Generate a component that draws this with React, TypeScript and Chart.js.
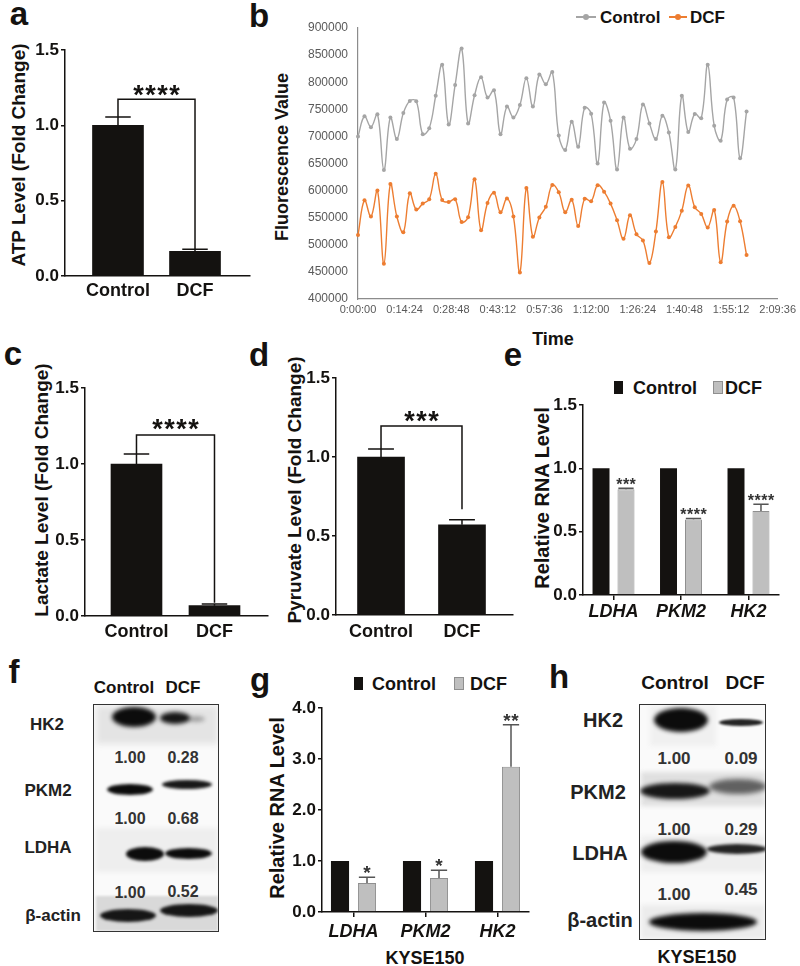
import React, { useEffect, useRef } from 'react';
import { Chart, registerables } from 'chart.js';
Chart.register(...registerables);

const W = 800;
const H = 966;
const FONT = '"Liberation Sans", Arial, Helvetica, sans-serif';
const INK = '#141210';
const DCF_GRAY = '#bfbfbf';

// ---------- Panel a / c / d data ----------
const groups = ['Control', 'DCF'];
const atpMeans = [1.0, 0.164];
const atpErr = [0.055, 0.013];
const lactateMeans = [1.0, 0.068];
const lactateErr = [0.066, 0.011];
const pyruvateMeans = [1.0, 0.571];
const pyruvateErr = [0.05, 0.032];
const atpSig = { label: '****', top: 1.173, leftEnd: 1.055, rightEnd: 0.177, labelY: 1.245 };
const lactateSig = { label: '****', top: 1.19, leftEnd: 1.066, rightEnd: 0.087, labelY: 1.27 };
const pyruvateSig = { label: '***', top: 1.196, leftEnd: 1.05, rightEnd: 0.669, labelY: 1.27 };

// ---------- Panel b data ----------
const timeMinutes = [0, 2, 4, 6, 8, 10, 12, 14, 16, 18, 20, 22, 24, 26, 28, 30, 32, 34, 36, 38, 40, 42, 44, 46, 48, 50, 52, 54, 56, 58, 60, 62, 64, 66, 68, 70, 72, 74, 76, 78, 80, 82, 84, 86, 88, 90, 92, 94, 96, 98, 100, 102, 104, 106, 108, 110, 112, 114, 116, 118, 120];
const controlFluor = [700000, 737000, 717000, 741000, 638000, 735000, 695000, 743000, 765500, 765000, 704000, 715000, 775000, 832000, 722000, 795000, 862000, 724000, 776000, 809000, 772000, 785000, 704000, 755000, 735000, 758000, 807500, 755000, 814000, 796000, 819000, 701500, 675000, 727000, 681000, 753000, 742000, 650000, 762500, 729000, 639000, 735000, 677000, 695000, 759000, 724000, 695000, 738000, 707000, 639000, 775000, 708000, 741500, 733500, 832000, 719500, 692000, 768000, 772000, 659500, 746000];
const dcfFluor = [518000, 582000, 552000, 600000, 465000, 612000, 552000, 523000, 595000, 565000, 576000, 584000, 631000, 582500, 579000, 584000, 542000, 551000, 621000, 527000, 577000, 596000, 560000, 585500, 552000, 449000, 605000, 515000, 550500, 570000, 610500, 597000, 560000, 583000, 534500, 585000, 580500, 610000, 598000, 576000, 545500, 511000, 554500, 519500, 508000, 466500, 524500, 616000, 514000, 533000, 563000, 609500, 569500, 557000, 532000, 564000, 468000, 543000, 572000, 543500, 481000];
const tickMinutes = [0, 14.4, 28.8, 43.2, 57.6, 72, 86.4, 100.8, 115.2, 129.6];
const timeTickLabels = ['0:00:00', '0:14:24', '0:28:48', '0:43:12', '0:57:36', '1:12:00', '1:26:24', '1:40:48', '1:55:12', '2:09:36'];

// ---------- Panel e / g data ----------
const genes = ['LDHA', 'PKM2', 'HK2'];
const eControl = [1.0, 1.0, 1.0];
const eDcf = [0.834, 0.597, 0.663];
const eDcfErr = [0.008, 0.006, 0.053];
const eStars = ['***', '****', '****'];
const gControl = [1.0, 1.0, 1.0];
const gDcf = [0.569, 0.667, 2.85];
const gDcfErr = [0.11, 0.15, 0.82];
const gStars = ['*', '*', '**'];

// ---------- Blot annotations ----------
const proteins = ['HK2', 'PKM2', 'LDHA', 'β-actin'];
const fRatios = [['1.00', '0.28'], ['1.00', '0.68'], ['1.00', '0.52']];
const hRatios = [['1.00', '0.09'], ['1.00', '0.29'], ['1.00', '0.45']];

function pad(x0: number, y0: number, x1: number, y1: number, yW: number, xH: number) {
  return { left: x0 - yW, top: y0, right: W - x1, bottom: H - y1 - xH };
}

function drawStars(ctx: any, text: string, cx: number, cy: number, size: number, spacing: number, color: string) {
  ctx.save();
  ctx.font = `bold ${size}px ${FONT}`;
  ctx.fillStyle = color;
  ctx.textAlign = 'center';
  ctx.textBaseline = 'alphabetic';
  ctx.letterSpacing = `${spacing}px`;
  ctx.fillText(text, cx + spacing / 2, cy + size * 0.575);
  ctx.restore();
}

function annot(bracket?: any, bracketStar?: { size: number; spacing: number }) {
  return {
    id: 'annot',
    afterDatasetsDraw(chart: any) {
      const ctx = chart.ctx;
      const ys = chart.scales.y;
      ctx.save();
      chart.data.datasets.forEach((ds: any, di: number) => {
        const meta = chart.getDatasetMeta(di);
        meta.data.forEach((bar: any, i: number) => {
          const v = ds.data[i].y;
          let top = ys.getPixelForValue(v);
          if (ds.errors && ds.errors[i] != null) {
            const e = ds.errors[i];
            const yt = ys.getPixelForValue(v + e);
            const yb = ys.getPixelForValue(v);
            const half = (bar.width * ds.capRatio) / 2;
            ctx.strokeStyle = ds.errorColor;
            ctx.lineWidth = 1.5;
            ctx.beginPath();
            ctx.moveTo(bar.x, yb);
            ctx.lineTo(bar.x, yt);
            ctx.moveTo(bar.x - half, yt);
            ctx.lineTo(bar.x + half, yt);
            ctx.stroke();
            top = yt;
          }
          if (ds.stars) {
            drawStars(ctx, ds.stars[i], bar.x, top - ds.starGap, ds.starSize, ds.starSpacing, '#333');
          }
        });
      });
      if (bracket) {
        const meta = chart.getDatasetMeta(0);
        const xa = meta.data[0].x;
        const xb = meta.data[1].x;
        const yTop = ys.getPixelForValue(bracket.top);
        ctx.strokeStyle = INK;
        ctx.lineWidth = 1.5;
        ctx.beginPath();
        ctx.moveTo(xa, ys.getPixelForValue(bracket.leftEnd));
        ctx.lineTo(xa, yTop);
        ctx.lineTo(xb, yTop);
        ctx.lineTo(xb, ys.getPixelForValue(bracket.rightEnd));
        ctx.stroke();
        drawStars(ctx, bracket.label, (xa + xb) / 2, ys.getPixelForValue(bracket.labelY), bracketStar!.size, bracketStar!.spacing, INK);
      }
      ctx.restore();
    },
  };
}

function barConfig(o: any) {
  const [x0, y0, x1, y1] = o.area;
  const yW = 50;
  const xH = 40;
  return {
    type: 'bar',
    data: { datasets: o.datasets },
    options: {
      responsive: false,
      maintainAspectRatio: false,
      animation: false,
      events: [],
      layout: { padding: pad(x0, y0, x1, y1, yW, xH) },
      plugins: { legend: { display: false }, tooltip: { enabled: false } },
      scales: {
        x: {
          type: 'linear',
          min: o.xMin,
          max: o.xMax,
          offset: false,
          afterFit: (s: any) => { s.height = xH; },
          afterBuildTicks: (s: any) => { s.ticks = o.labels.map((_: any, i: number) => ({ value: i })); },
          grid: { display: true, offset: false, drawOnChartArea: false, drawTicks: o.xTicks, tickLength: 5, color: INK, lineWidth: 1.5 },
          border: { display: true, color: INK, width: 1.5 },
          ticks: {
            padding: o.xPad,
            color: INK,
            autoSkip: false,
            maxRotation: 0,
            font: { family: FONT, size: 18, weight: 'bold', style: o.italic ? 'italic' : 'normal' },
            callback: (v: number) => o.labels[Math.round(v)] ?? '',
          },
        },
        y: {
          min: 0,
          max: o.yMax,
          afterFit: (s: any) => { s.width = yW; },
          grid: { display: true, drawOnChartArea: false, drawTicks: true, tickLength: 4, color: INK, lineWidth: 1.5 },
          border: { display: true, color: INK, width: 1.5 },
          ticks: {
            stepSize: o.yStep,
            padding: 2,
            color: INK,
            font: { family: FONT, size: 17, weight: 'bold' },
            callback: (v: number) => Number(v).toFixed(1),
          },
        },
      },
    },
    plugins: [annot(o.bracket, o.bracketStar)],
  };
}

function twoBar(means: number[], errs: number[], width: number, capRatio: number) {
  return [{
    data: groups.map((_, i) => ({ x: i, y: means[i] })),
    backgroundColor: INK,
    borderWidth: 0,
    barThickness: width,
    errors: errs,
    errorColor: INK,
    capRatio,
  }];
}

function genePair(ctrl: number[], dcf: number[], dcfErr: number[], stars: string[], cp: number, bp: number, starSize: number, starGap: number, starSpacing: number) {
  return [
    {
      label: 'Control',
      data: genes.map((_, i) => ({ x: i, y: ctrl[i] })),
      backgroundColor: INK,
      borderWidth: 0,
      categoryPercentage: cp,
      barPercentage: bp,
    },
    {
      label: 'DCF',
      data: genes.map((_, i) => ({ x: i, y: dcf[i] })),
      backgroundColor: DCF_GRAY,
      borderColor: '#8f8f8f',
      borderWidth: 1,
      categoryPercentage: cp,
      barPercentage: bp,
      errors: dcfErr,
      errorColor: '#555',
      capRatio: 0.9,
      stars,
      starSize,
      starGap,
      starSpacing,
    },
  ];
}

const configA = () => barConfig({
  area: [65, 50, 250, 276], yMax: 1.5, yStep: 0.5, xMin: -0.688, xMax: 1.714, labels: groups,
  xTicks: false, xPad: 4, datasets: twoBar(atpMeans, atpErr, 51, 0.5), bracket: atpSig, bracketStar: { size: 27, spacing: 1.5 },
});
const configC = () => barConfig({
  area: [85, 388, 268, 616], yMax: 1.5, yStep: 0.5, xMin: -0.66, xMax: 1.686, labels: groups,
  xTicks: false, xPad: 5, datasets: twoBar(lactateMeans, lactateErr, 51, 0.5), bracket: lactateSig, bracketStar: { size: 27, spacing: 1.5 },
});
const configD = () => barConfig({
  area: [336, 378, 513, 615], yMax: 1.5, yStep: 0.5, xMin: -0.556, xMax: 1.63, labels: groups,
  xTicks: false, xPad: 6, datasets: twoBar(pyruvateMeans, pyruvateErr, 47, 0.55), bracket: pyruvateSig, bracketStar: { size: 27, spacing: 1.5 },
});
const configE = () => barConfig({
  area: [583, 405, 779, 595], yMax: 1.5, yStep: 0.5, xMin: -0.452, xMax: 2.452, labels: genes, italic: true,
  xTicks: true, xPad: 1, datasets: genePair(eControl, eDcf, eDcfErr, eStars, 0.74, 0.68, 16, 8, 0.5),
});
const configG = () => barConfig({
  area: [322, 708, 529, 912], yMax: 4, yStep: 1, xMin: -0.4375, xMax: 2.4375, labels: genes, italic: true,
  xTicks: true, xPad: 4, datasets: genePair(gControl, gDcf, gDcfErr, gStars, 0.75, 0.67, 19, 9, 0.5),
});

const configB = () => {
  const yW = 60;
  const xH = 30;
  const lineDs = (label: string, vals: number[], color: string) => ({
    label,
    data: timeMinutes.map((t, i) => ({ x: t, y: vals[i] })),
    borderColor: color,
    backgroundColor: color,
    borderWidth: 1.4,
    pointRadius: 2,
    pointBorderWidth: 0,
    tension: 0.4,
    clip: false,
  });
  return {
    type: 'line',
    data: { datasets: [lineDs('Control', controlFluor, '#a5a5a5'), lineDs('DCF', dcfFluor, '#ed7d31')] },
    options: {
      responsive: false,
      maintainAspectRatio: false,
      animation: false,
      events: [],
      layout: { padding: pad(358, 28, 781, 299, yW, xH) },
      plugins: { legend: { display: false }, tooltip: { enabled: false } },
      scales: {
        x: {
          type: 'linear',
          min: 0,
          max: 129.6,
          afterFit: (s: any) => { s.height = xH; },
          afterBuildTicks: (s: any) => { s.ticks = tickMinutes.map((v) => ({ value: v })); },
          grid: { display: true, drawOnChartArea: false, drawTicks: false },
          border: { display: true, color: '#8c8c8c', width: 1.2 },
          ticks: {
            padding: 4,
            color: '#595959',
            autoSkip: false,
            maxRotation: 0,
            font: { family: FONT, size: 11 },
            callback: (v: number) => timeTickLabels[tickMinutes.indexOf(v)] ?? '',
          },
        },
        y: {
          min: 400000,
          max: 900000,
          afterFit: (s: any) => { s.width = yW; },
          grid: { display: true, drawOnChartArea: false, drawTicks: false },
          border: { display: true, color: '#8c8c8c', width: 1.2 },
          ticks: {
            stepSize: 50000,
            padding: 10,
            color: '#595959',
            font: { family: FONT, size: 12 },
            callback: (v: number) => String(v),
          },
        },
      },
    },
  };
};

function ChartLayer({ make }: { make: () => any }) {
  const ref = useRef<HTMLCanvasElement>(null);
  useEffect(() => {
    const chart = new Chart(ref.current as HTMLCanvasElement, make());
    return () => chart.destroy();
  }, []);
  return (
    <canvas
      ref={ref}
      width={W}
      height={H}
      style={{ position: 'absolute', left: 0, top: 0, width: W, height: H, pointerEvents: 'none' }}
    />
  );
}

function T(props: { x: number; y: number; s: number; w?: number; it?: boolean; c?: string; rot?: number; left?: boolean; children: any }) {
  const { x, y, s, w = 700, it = false, c = INK, rot = 0, left = false, children } = props;
  return (
    <div
      style={{
        position: 'absolute',
        left: x,
        top: y,
        transform: `translate(${left ? '0' : '-50%'}, -50%) rotate(${rot}deg)`,
        fontFamily: FONT,
        fontSize: s,
        fontWeight: w,
        fontStyle: it ? 'italic' : 'normal',
        color: c,
        lineHeight: 1,
        whiteSpace: 'nowrap',
      }}
    >
      {children}
    </div>
  );
}

function Rect(p: { x: number; y: number; w: number; h: number; bg: string; border?: string; blur?: number; round?: boolean }) {
  return (
    <div
      style={{
        position: 'absolute',
        left: p.x,
        top: p.y,
        width: p.w,
        height: p.h,
        background: p.bg,
        border: p.border,
        boxSizing: 'border-box',
        borderRadius: p.round ? '50%' : 0,
        filter: p.blur ? `blur(${p.blur}px)` : undefined,
      }}
    />
  );
}

// blot drawing layout: [cx, cy, w, h, alpha, blur]
const fBands = [
  [134, 717, 44, 20, 1, 2], [175, 718, 30, 12, 0.95, 2], [196, 719, 18, 6, 0.3, 2],
  [130, 789, 46, 11, 1, 1.5], [187, 784, 50, 9, 0.95, 1.5],
  [145, 854, 38, 14, 1, 1.5], [188, 853, 47, 11, 1, 1.5],
  [128, 915, 56, 13, 0.95, 1.5], [189, 910, 58, 13, 0.95, 1.5],
];
const fBack = [
  [96, 706, 122, 38, '#e4e4e4', 3], [96, 828, 122, 44, '#eeeeee', 2], [96, 896, 122, 35, '#d9d9d9', 1],
];
const hBands = [
  [681, 720, 54, 24, 1, 2], [741, 722, 44, 7, 0.9, 1.2],
  [675, 791, 70, 16, 0.95, 2], [738, 786, 58, 15, 0.6, 2.5],
  [674, 852, 66, 22, 1, 2], [737, 849, 60, 10, 0.9, 1.5],
  [703, 922, 108, 18, 1, 2],
];
const hBack = [
  [650, 706, 66, 40, '#f0f0f0', 2], [641, 772, 124, 34, '#e0e0e0', 2], [641, 836, 124, 36, '#eeeeee', 2], [641, 905, 124, 34, '#ececec', 2],
];

function Blot(p: { box: number[]; bands: number[][]; back: any[][] }) {
  const [bx, by, bw, bh] = p.box;
  return (
    <>
      <div style={{ position: 'absolute', left: bx, top: by, width: bw, height: bh, overflow: 'hidden', background: '#fafafa' }}>
        {p.back.map((b, i) => (
          <Rect key={'b' + i} x={b[0] - bx} y={b[1] - by} w={b[2]} h={b[3]} bg={b[4]} blur={b[5]} />
        ))}
        {p.bands.map((b, i) => (
          <Rect key={'n' + i} x={b[0] - b[2] / 2 - bx} y={b[1] - b[3] / 2 - by} w={b[2]} h={b[3]} bg={`rgba(12,12,12,${b[4]})`} blur={b[5]} round />
        ))}
      </div>
      <div style={{ position: 'absolute', left: bx, top: by, width: bw, height: bh, border: '1.5px solid #333', boxSizing: 'border-box' }} />
    </>
  );
}

export default function App() {
  return (
    <div style={{ position: 'absolute', left: 0, top: 0, width: W, height: H, background: '#fff', overflow: 'hidden' }}>
      {/* panel letters */}
      <T x={19} y={13} s={33}>a</T>
      <T x={259} y={15} s={33}>b</T>
      <T x={13} y={353} s={33}>c</T>
      <T x={259} y={354} s={33}>d</T>
      <T x={513} y={354} s={33}>e</T>
      <T x={14} y={671} s={33}>f</T>
      <T x={260} y={679} s={33}>g</T>
      <T x={559} y={676} s={33}>h</T>

      {/* axis titles */}
      <T x={18} y={155} s={19} rot={-90}>ATP Level (Fold Change)</T>
      <T x={282} y={157} s={18} rot={-90}>Fluorescence Value</T>
      <T x={553} y={339} s={18}>Time</T>
      <T x={41} y={490} s={19} rot={-90}>Lactate Level (Fold Change)</T>
      <T x={294} y={490} s={19} rot={-90}>Pyruvate Level (Fold Change)</T>
      <T x={542} y={498} s={20} rot={-90}>Relative RNA Level</T>
      <T x={277} y={808} s={20} rot={-90}>Relative RNA Level</T>
      <T x={425} y={958} s={18}>KYSE150</T>

      {/* panel b legend */}
      <div style={{ position: 'absolute', left: 576, top: 16, width: 20, height: 2, background: '#a5a5a5' }} />
      <div style={{ position: 'absolute', left: 583, top: 14, width: 6, height: 6, borderRadius: '50%', background: '#a5a5a5' }} />
      <T x={600} y={17} s={17} left>Control</T>
      <div style={{ position: 'absolute', left: 669, top: 16, width: 18, height: 2, background: '#ed7d31' }} />
      <div style={{ position: 'absolute', left: 675, top: 14, width: 6, height: 6, borderRadius: '50%', background: '#ed7d31' }} />
      <T x={690} y={17} s={17} left>DCF</T>

      {/* panel e legend */}
      <Rect x={614} y={381} w={9} h={13} bg={INK} />
      <T x={633} y={388} s={18} left>Control</T>
      <Rect x={713} y={381} w={10} h={13} bg={DCF_GRAY} border="1px solid #8f8f8f" />
      <T x={725} y={388} s={18} left>DCF</T>

      {/* panel g legend */}
      <Rect x={354} y={677} w={9} h={13} bg={INK} />
      <T x={372} y={684} s={18} left>Control</T>
      <Rect x={454} y={677} w={10} h={13} bg={DCF_GRAY} border="1px solid #8f8f8f" />
      <T x={470} y={684} s={18} left>DCF</T>

      {/* blot f */}
      <T x={124} y={687} s={17}>Control</T>
      <T x={183} y={687} s={17}>DCF</T>
      <Blot box={[93, 704, 126, 228]} bands={fBands} back={fBack} />
      <T x={47} y={724} s={17} c="#222">{proteins[0]}</T>
      <T x={48} y={790} s={17} c="#222">{proteins[1]}</T>
      <T x={48} y={847} s={17} c="#222">{proteins[2]}</T>
      <T x={53} y={915} s={17} c="#222">{proteins[3]}</T>
      {fRatios.map((r, i) => (
        <React.Fragment key={'fr' + i}>
          <T x={130} y={[758, 819, 893][i]} s={16} c="#333">{r[0]}</T>
          <T x={183} y={[758, 819, 892][i]} s={16} c="#333">{r[1]}</T>
        </React.Fragment>
      ))}

      {/* blot h */}
      <T x={675} y={682} s={19}>Control</T>
      <T x={745} y={682} s={19}>DCF</T>
      <Blot box={[639, 704, 127, 236]} bands={hBands} back={hBack} />
      <T x={603} y={720} s={20} c="#222">{proteins[0]}</T>
      <T x={598} y={792} s={20} c="#222">{proteins[1]}</T>
      <T x={600} y={853} s={20} c="#222">{proteins[2]}</T>
      <T x={600} y={920} s={20} c="#222">{proteins[3]}</T>
      {hRatios.map((r, i) => (
        <React.Fragment key={'hr' + i}>
          <T x={674} y={[758, 829, 894][i]} s={17} c="#333">{r[0]}</T>
          <T x={741} y={[758, 829, 889][i]} s={17} c="#333">{r[1]}</T>
        </React.Fragment>
      ))}
      <T x={697} y={957} s={18}>KYSE150</T>

      {/* charts */}
      <ChartLayer make={configA} />
      <ChartLayer make={configB} />
      <ChartLayer make={configC} />
      <ChartLayer make={configD} />
      <ChartLayer make={configE} />
      <ChartLayer make={configG} />
    </div>
  );
}
